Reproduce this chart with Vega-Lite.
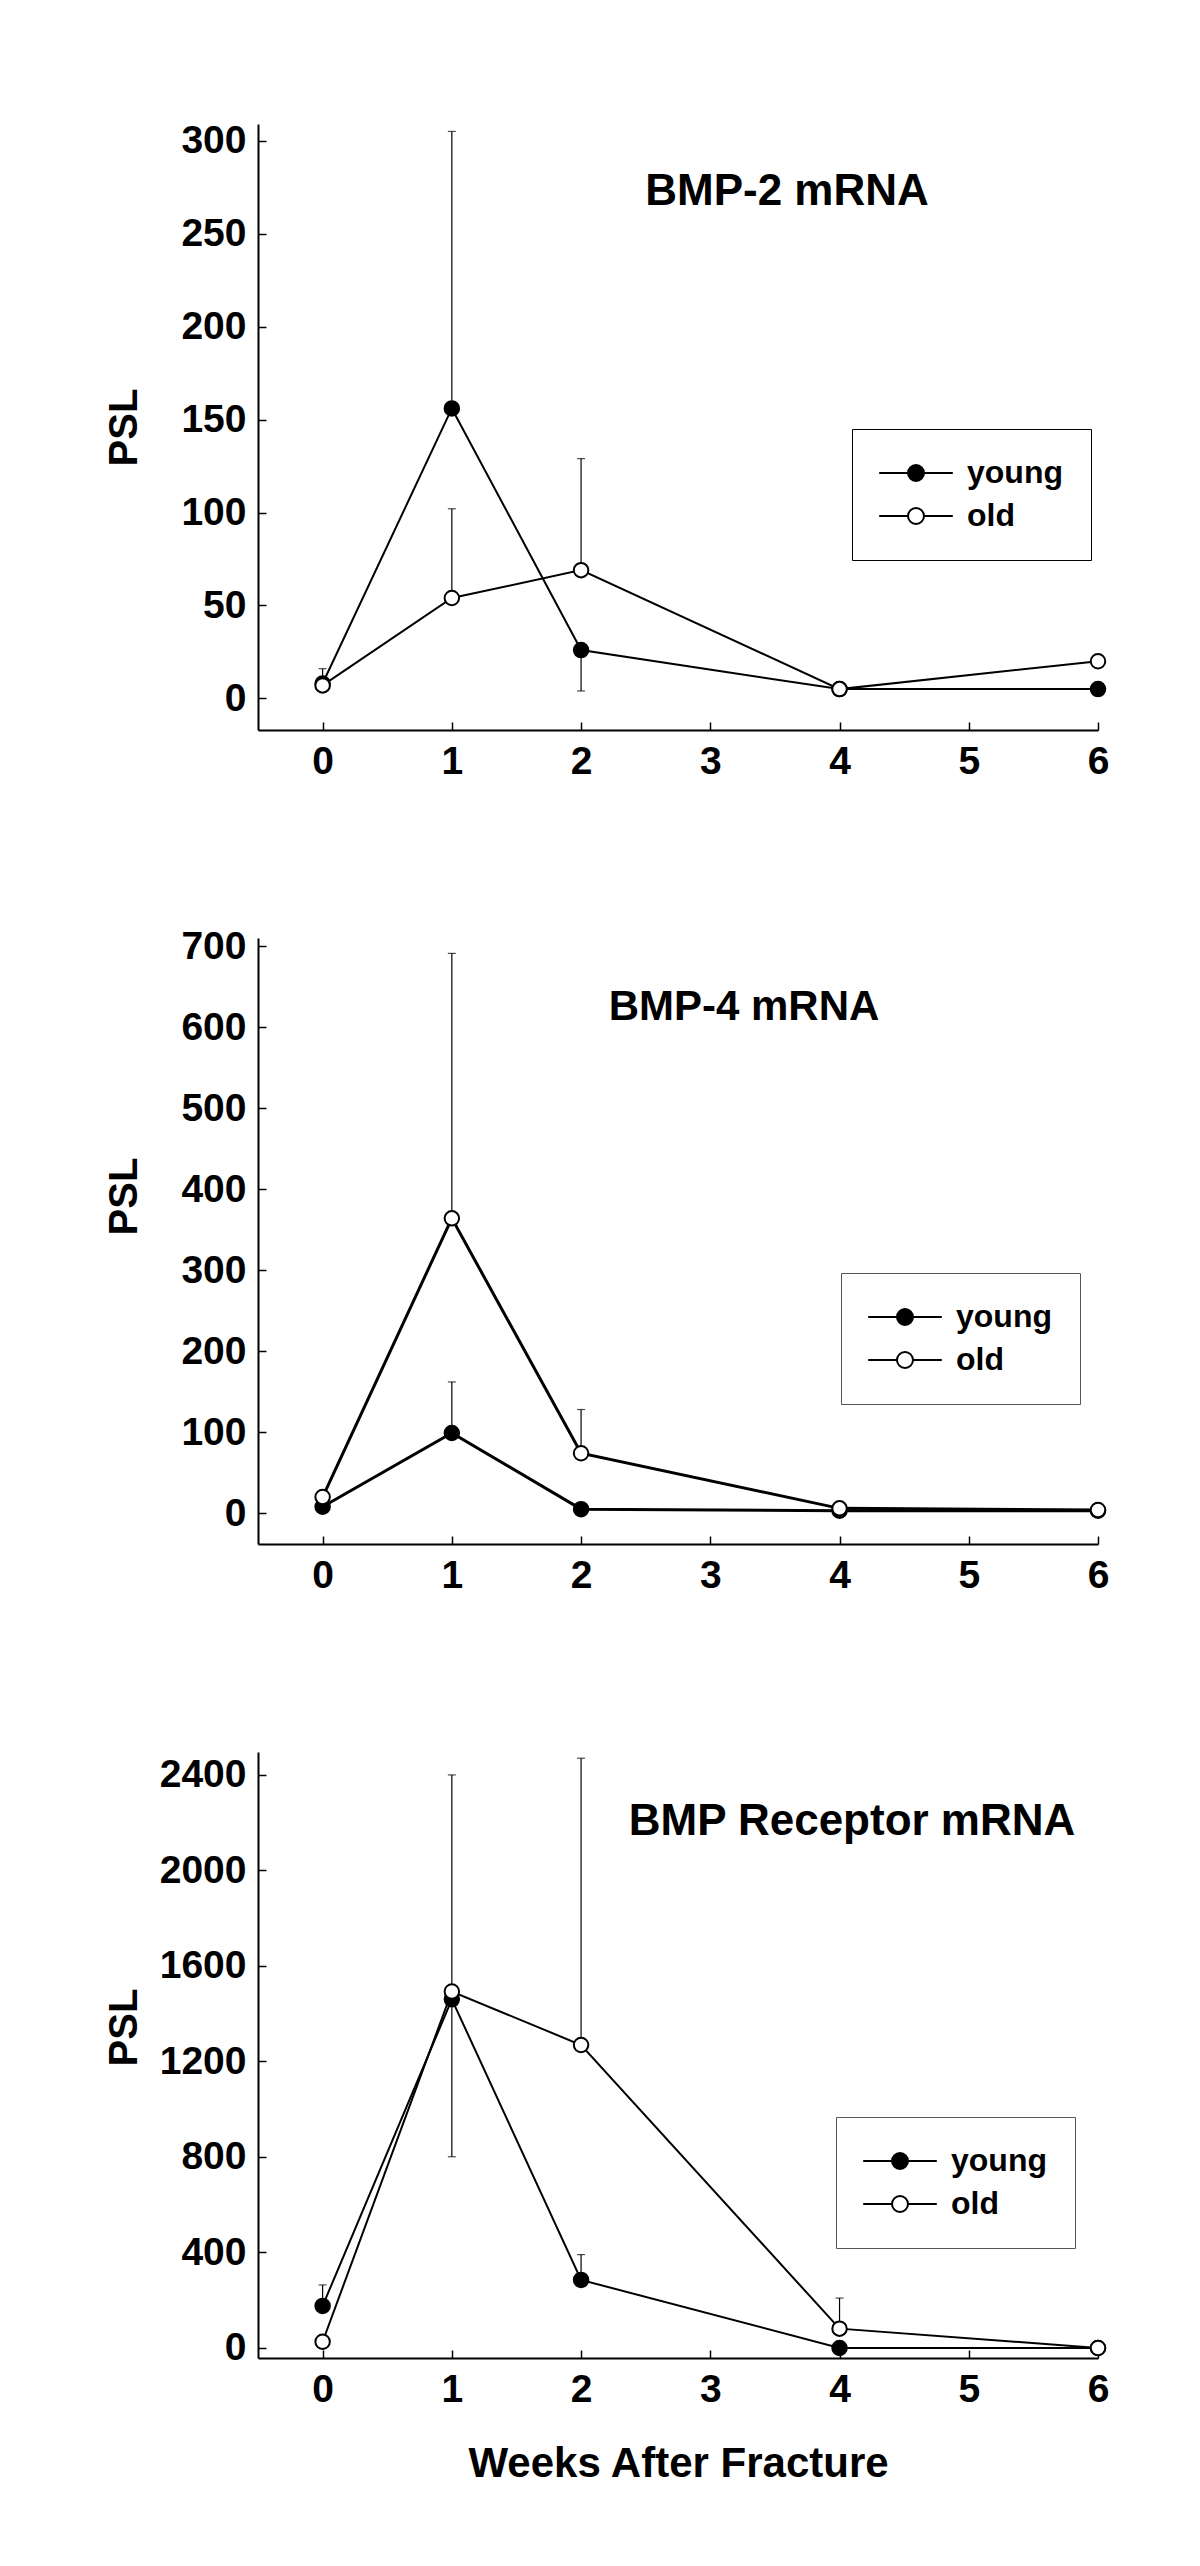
{
  "$schema": "https://vega.github.io/schema/vega-lite/v6.json",
  "background": "white",
  "padding": {"left": 104, "top": 121, "right": 10, "bottom": 10},
  "config": {
    "font": "Liberation Sans",
    "view": {"stroke": null},
    "axis": {
      "domainColor": "black", "domainWidth": 2,
      "tickColor": "black", "tickWidth": 1.5, "tickSize": -8,
      "labelFont": "Liberation Sans", "labelFontSize": 39, "labelFontWeight": "bold", "labelColor": "black",
      "labelPadding": 20, "labelFlush": false, "labelOverlap": false,
      "grid": false,
      "titleFont": "Liberation Sans", "titleFontSize": 40, "titleFontWeight": "bold", "titleColor": "black"
    },
    "legend": {
      "title": null, "orient": "none", "direction": "vertical",
      "padding": 28, "fillColor": "white", "cornerRadius": 0,
      "labelFont": "Liberation Sans", "labelFontSize": 32, "labelFontWeight": "bold", "labelColor": "black",
      "labelExpr": "datum.label + '    '",
      "symbolType": "M-4.6,0H-1M1,0H4.6M1,0A1,1,0,1,1,-1,0A1,1,0,1,1,1,0Z",
      "symbolSize": 256, "symbolStrokeWidth": 2, "symbolStrokeColor": "black",
      "symbolOffset": 20, "labelOffset": 35, "rowPadding": 11
    },
    "title": {"font": "Liberation Sans", "fontSize": 44, "fontWeight": "bold", "color": "black", "anchor": "middle", "frame": "group", "baseline": "middle", "offset": 0}
  },
  "datasets": {
    "bmp2": [
      {"week": 0, "group": "young", "value": 8, "err": 16},
      {"week": 1, "group": "young", "value": 156, "err": 305},
      {"week": 2, "group": "young", "value": 26, "err": 4},
      {"week": 4, "group": "young", "value": 5, "err": null},
      {"week": 6, "group": "young", "value": 5, "err": null},
      {"week": 0, "group": "old", "value": 7, "err": null},
      {"week": 1, "group": "old", "value": 54, "err": 102},
      {"week": 2, "group": "old", "value": 69, "err": 129},
      {"week": 4, "group": "old", "value": 5, "err": null},
      {"week": 6, "group": "old", "value": 20, "err": null}
    ],
    "bmp4": [
      {"week": 0, "group": "young", "value": 8, "err": null},
      {"week": 1, "group": "young", "value": 99, "err": 162},
      {"week": 2, "group": "young", "value": 5, "err": null},
      {"week": 4, "group": "young", "value": 3, "err": null},
      {"week": 6, "group": "young", "value": 3, "err": null},
      {"week": 0, "group": "old", "value": 20, "err": 27},
      {"week": 1, "group": "old", "value": 364, "err": 691},
      {"week": 2, "group": "old", "value": 74, "err": 128},
      {"week": 4, "group": "old", "value": 6, "err": null},
      {"week": 6, "group": "old", "value": 4, "err": null}
    ],
    "bmpr": [
      {"week": 0, "group": "young", "value": 176, "err": 264},
      {"week": 1, "group": "young", "value": 1460, "err": 801},
      {"week": 2, "group": "young", "value": 285, "err": 391},
      {"week": 4, "group": "young", "value": 0, "err": null},
      {"week": 6, "group": "young", "value": 0, "err": null},
      {"week": 0, "group": "old", "value": 26, "err": null},
      {"week": 1, "group": "old", "value": 1493, "err": 2400},
      {"week": 2, "group": "old", "value": 1269, "err": 2470},
      {"week": 4, "group": "old", "value": 81, "err": 209},
      {"week": 6, "group": "old", "value": 0, "err": null}
    ]
  },
  "spacing": 208,
  "bounds": "flush",
  "resolve": {"scale": {"fill": "independent", "x": "independent", "y": "independent"}, "legend": {"fill": "independent"}},
  "vconcat": [
    {
      "width": 840, "height": 606,
      "title": {"text": "BMP-2 mRNA", "dx": 109, "dy": 96},
      "data": {"name": "bmp2"},
      "encoding": {
        "x": {"field": "week", "type": "quantitative", "scale": {"domain": [-0.5, 6], "nice": false}, "axis": {"values": [0, 1, 2, 3, 4, 5, 6], "title": null}},
        "y": {"field": "value", "type": "quantitative", "scale": {"domain": [-17, 309], "nice": false, "zero": false}, "axis": {"values": [0, 50, 100, 150, 200, 250, 300], "format": "d", "title": "PSL", "titleX": -134, "titleY": 303, "titleBaseline": "middle", "titleAngle": -90, "titleAlign": "center"}}
      },
      "layer": [
        {"transform": [{"filter": "datum.err != null"}], "mark": {"type": "rule", "color": "black", "strokeWidth": 1.2}, "encoding": {"y2": {"field": "err"}}},
        {"transform": [{"filter": "datum.err != null"}], "mark": {"type": "tick", "orient": "horizontal", "size": 8, "thickness": 1.2, "color": "black"}, "encoding": {"y": {"field": "err", "type": "quantitative"}}},
        {"mark": {"type": "line", "color": "black", "strokeWidth": 2}, "encoding": {"detail": {"field": "group"}}},
        {"mark": {"type": "point", "shape": "circle", "size": 210, "filled": true, "stroke": "black", "strokeWidth": 2, "opacity": 1},
         "encoding": {"fill": {"field": "group", "type": "nominal", "scale": {"domain": ["young", "old"], "range": ["black", "white"]},
           "legend": {"legendX": 594, "legendY": 305, "strokeColor": "black", "encode": {"legend": {"update": {"strokeWidth": {"value": 2}}}}}}}}
      ]
    },
    {
      "width": 840, "height": 606,
      "title": {"text": "BMP-4 mRNA", "dx": 66, "dy": 106, "fontSize": 42},
      "data": {"name": "bmp4"},
      "encoding": {
        "x": {"field": "week", "type": "quantitative", "scale": {"domain": [-0.5, 6], "nice": false}, "axis": {"values": [0, 1, 2, 3, 4, 5, 6], "title": null}},
        "y": {"field": "value", "type": "quantitative", "scale": {"domain": [-38, 710], "nice": false, "zero": false}, "axis": {"values": [0, 100, 200, 300, 400, 500, 600, 700], "format": "d", "title": "PSL", "titleX": -134, "titleY": 258, "titleBaseline": "middle", "titleAngle": -90, "titleAlign": "center"}}
      },
      "layer": [
        {"transform": [{"filter": "datum.err != null"}], "mark": {"type": "rule", "color": "black", "strokeWidth": 1.2}, "encoding": {"y2": {"field": "err"}}},
        {"transform": [{"filter": "datum.err != null"}], "mark": {"type": "tick", "orient": "horizontal", "size": 8, "thickness": 1.2, "color": "black"}, "encoding": {"y": {"field": "err", "type": "quantitative"}}},
        {"mark": {"type": "line", "color": "black", "strokeWidth": 3}, "encoding": {"detail": {"field": "group"}}},
        {"mark": {"type": "point", "shape": "circle", "size": 210, "filled": true, "stroke": "black", "strokeWidth": 2, "opacity": 1},
         "encoding": {"fill": {"field": "group", "type": "nominal", "scale": {"domain": ["young", "old"], "range": ["black", "white"]},
           "legend": {"legendX": 583, "legendY": 335, "strokeColor": "#555", "encode": {"legend": {"update": {"strokeWidth": {"value": 1}}}}}}}}
      ]
    },
    {
      "width": 840, "height": 606,
      "title": {"text": "BMP Receptor mRNA", "dx": 174, "dy": 96},
      "data": {"name": "bmpr"},
      "encoding": {
        "x": {"field": "week", "type": "quantitative", "scale": {"domain": [-0.5, 6], "nice": false}, "axis": {"values": [0, 1, 2, 3, 4, 5, 6], "title": "Weeks After Fracture", "titlePadding": 34, "titleFontSize": 42}},
        "y": {"field": "value", "type": "quantitative", "scale": {"domain": [-42, 2496], "nice": false, "zero": false}, "axis": {"values": [0, 400, 800, 1200, 1600, 2000, 2400], "format": "d", "title": "PSL", "titleX": -134, "titleY": 275, "titleBaseline": "middle", "titleAngle": -90, "titleAlign": "center"}}
      },
      "layer": [
        {"transform": [{"filter": "datum.err != null"}], "mark": {"type": "rule", "color": "black", "strokeWidth": 1.2}, "encoding": {"y2": {"field": "err"}}},
        {"transform": [{"filter": "datum.err != null"}], "mark": {"type": "tick", "orient": "horizontal", "size": 8, "thickness": 1.2, "color": "black"}, "encoding": {"y": {"field": "err", "type": "quantitative"}}},
        {"mark": {"type": "line", "color": "black", "strokeWidth": 2}, "encoding": {"detail": {"field": "group"}}},
        {"mark": {"type": "point", "shape": "circle", "size": 210, "filled": true, "stroke": "black", "strokeWidth": 2, "opacity": 1},
         "encoding": {"fill": {"field": "group", "type": "nominal", "scale": {"domain": ["young", "old"], "range": ["black", "white"]},
           "legend": {"legendX": 578, "legendY": 365, "strokeColor": "#555", "encode": {"legend": {"update": {"strokeWidth": {"value": 1}}}}}}}}
      ]
    }
  ]
}
